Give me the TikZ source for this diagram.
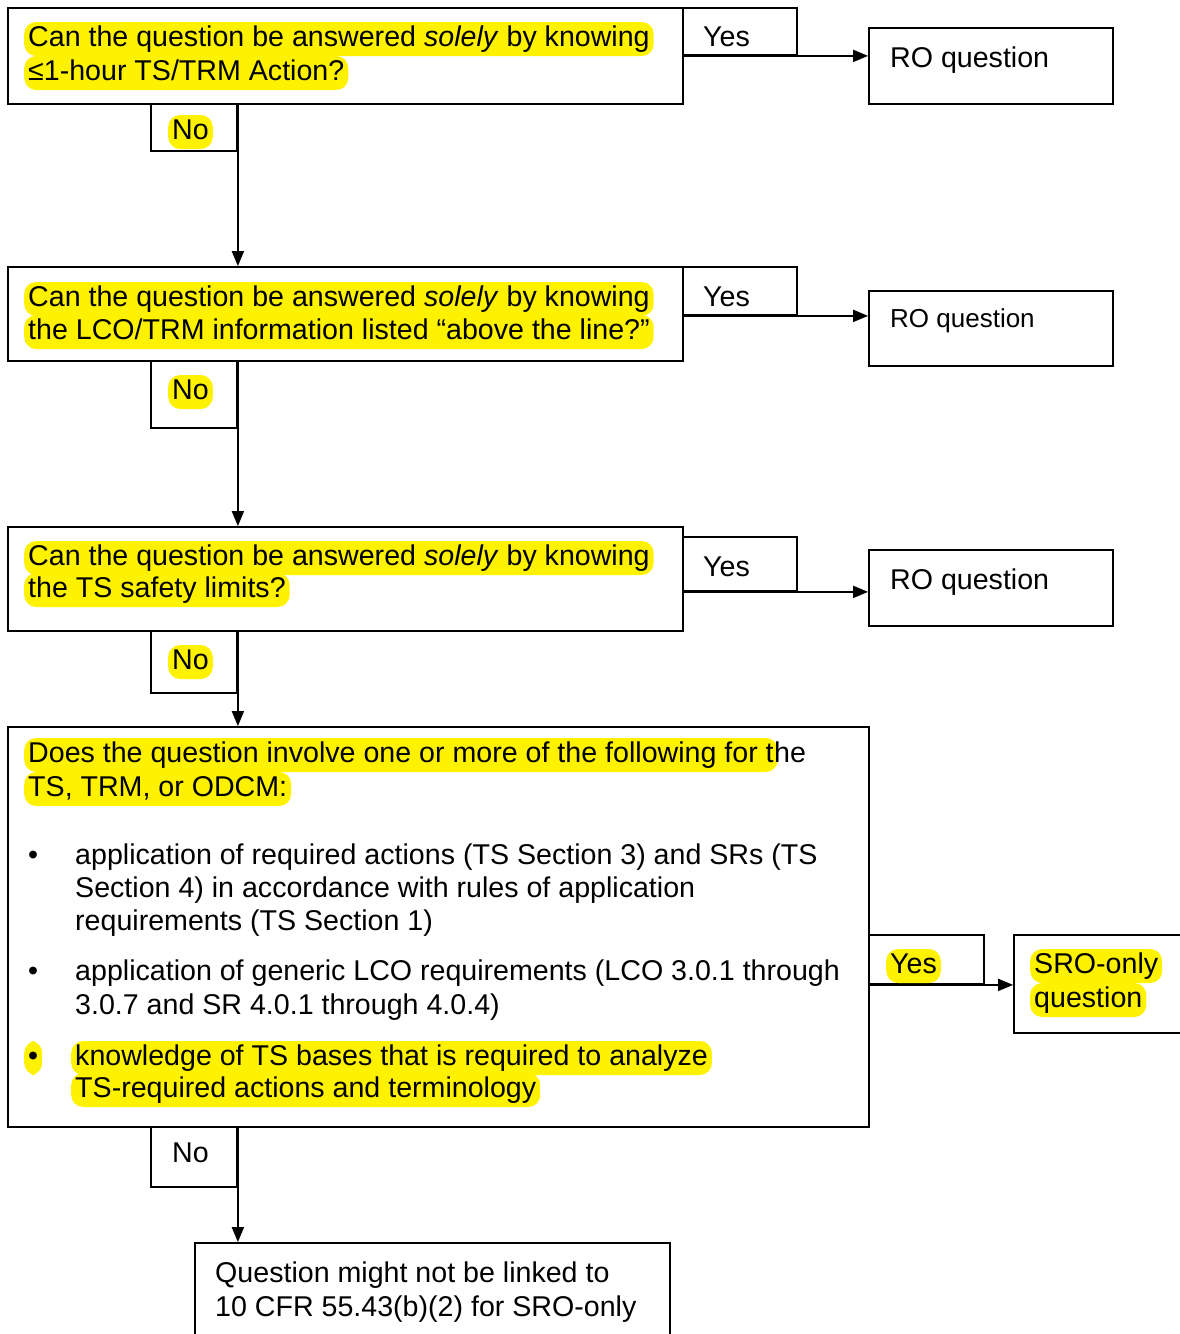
\documentclass[tikz,border=0pt]{standalone}
\usepackage{fontspec}
\setmainfont{Liberation Sans}
\usetikzlibrary{arrows.meta}
\newcommand\fsz{\fontsize{28.6}{34}\selectfont}
\newcommand\fsm{\fontsize{26}{32}\selectfont}
\tikzset{
  box/.style={draw, line width=1.8pt, inner sep=0pt},
  txt/.style={anchor=west, inner xsep=4pt, inner ysep=2pt, text height=22pt, text depth=8pt, font=\fsz},
  hl/.style={txt, fill=yellow, rounded corners=12pt},
  arr/.style={line width=1.8pt, -{Triangle[length=15pt,width=12pt]}}
}
\begin{document}
\begin{tikzpicture}[x=1pt,y=-1pt]
\useasboundingbox (0,0) rectangle (1180,1334);
\fill[white] (0,0) rectangle (1180,1334);
% boxes
\node[box, minimum width=675pt, minimum height=96pt] (q1) at (345.5,56) {};
\node[box, minimum width=114pt, minimum height=47pt] (yes1) at (740,31.5) {};
\node[box, minimum width=244pt, minimum height=76pt] (ro1) at (991,66) {};
\node[box, minimum width=86pt, minimum height=47pt] (no1) at (194,127.5) {};

\node[box, minimum width=675pt, minimum height=94pt] (q2) at (345.5,314) {};
\node[box, minimum width=114pt, minimum height=48pt] (yes2) at (740,291) {};
\node[box, minimum width=244pt, minimum height=75pt] (ro2) at (991,328.5) {};
\node[box, minimum width=86pt, minimum height=67pt] (no2) at (194,394.5) {};

\node[box, minimum width=675pt, minimum height=104pt] (q3) at (345.5,579) {};
\node[box, minimum width=114pt, minimum height=54pt] (yes3) at (740,564) {};
\node[box, minimum width=244pt, minimum height=76pt] (ro3) at (991,588) {};
\node[box, minimum width=86pt, minimum height=62pt] (no3) at (194,662) {};

\node[box, minimum width=861pt, minimum height=400pt] (q4) at (438.5,927) {};
\node[box, minimum width=115pt, minimum height=49pt] (yes4) at (926.5,959.5) {};
\node[box, minimum width=186pt, minimum height=98pt] (sro) at (1107,984) {};
\node[box, minimum width=86pt, minimum height=60pt] (no4) at (194,1157) {};

\node[box, minimum width=475pt, minimum height=110pt] (fin) at (432.5,1298) {};

% connectors
\draw[arr] (yes1.south west) -- (ro1.west |- yes1.south west);
\draw[arr] (yes2.south west) -- (ro2.west |- yes2.south west);
\draw[arr] (yes3.south west) -- (ro3.west |- yes3.south west);
\draw[arr] (yes4.south west) -- (sro.west |- yes4.south west);
\draw[arr] (no1.north east) -- (q2.north -| no1.north east);
\draw[arr] (no2.north east) -- (q3.north -| no2.north east);
\draw[arr] (no3.north east) -- (q4.north -| no3.north east);
\draw[arr] (no4.north east) -- (fin.north -| no4.north east);

% texts box 1
\node[hl] (t1a) at (24,39) {Can the question be answered \textit{solely} by knowing};
\node[hl] (t1b) at (24,73) {≤1-hour TS/TRM Action?};
\node[txt] (y1) at (699,39) {Yes};
\node[txt] (r1) at (886,60) {RO question};
\node[hl] (n1) at (168,132) {No};

% texts box 2
\node[hl] (t2a) at (24,299) {Can the question be answered \textit{solely} by knowing};
\node[hl] (t2b) at (24,332) {the LCO/TRM information listed “above the line?”};
\node[txt] (y2) at (699,299) {Yes};
\node[txt, font=\fsm] (r2) at (886,320) {RO question};
\node[hl] (n2) at (168,392) {No};

% texts box 3
\node[hl] (t3a) at (24,558) {Can the question be answered \textit{solely} by knowing};
\node[hl] (t3b) at (24,590) {the TS safety limits?};
\node[txt] (y3) at (699,569) {Yes};
\node[txt] (r3) at (886,582) {RO question};
\node[hl] (n3) at (168,662) {No};

% texts box 4
\node[hl] (t4a) at (24,755) {Does the question involve one or more of the following for t};
\node[txt, inner xsep=0pt] (t4a2) at ([xshift=-4pt]t4a.east) {he};
\node[hl] (t4b) at (24,789) {TS, TRM, or ODCM:};
\node[txt] (b1) at (24,857) {•};
\node[txt] (b1a) at (71,857) {application of required actions (TS Section 3) and SRs (TS};
\node[txt] (b1b) at (71,890) {Section 4) in accordance with rules of application};
\node[txt] (b1c) at (71,923) {requirements (TS Section 1)};
\node[txt] (b2) at (24,973) {•};
\node[txt] (b2a) at (71,973) {application of generic LCO requirements (LCO 3.0.1 through};
\node[txt] (b2b) at (71,1007) {3.0.7 and SR 4.0.1 through 4.0.4)};
\node[hl] (b3) at (24,1058) {•};
\node[hl] (b3a) at (71,1058) {knowledge of TS bases that is required to analyze};
\node[hl] (b3b) at (71,1090) {TS-required actions and terminology};
\node[hl] (y4) at (886,966) {Yes};
\node[hl] (s1) at (1030,966) {SRO-only};
\node[hl] (s2) at (1030,1000) {question};
\node[txt] (n4) at (168,1155) {No};

% final
\node[txt] (f1) at (211,1275) {Question might not be linked to};
\node[txt] (f2) at (211,1309) {10 CFR 55.43(b)(2) for SRO-only};
\end{tikzpicture}
\end{document}
